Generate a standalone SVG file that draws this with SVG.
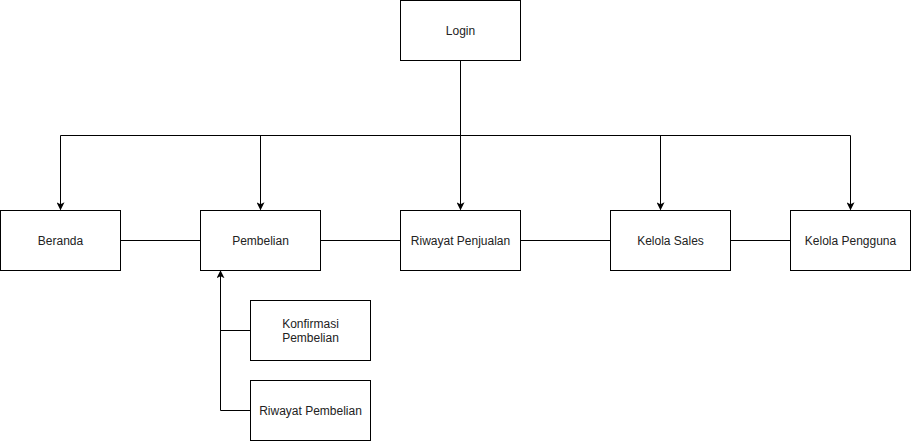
<svg xmlns="http://www.w3.org/2000/svg" width="911" height="441" viewBox="0 0 911 441">
  <style>
    .box { fill: #ffffff; stroke: #000000; stroke-width: 1; }
    .label { font-family: "Liberation Sans", Arial, sans-serif; font-size: 12px; fill: #222222; text-anchor: middle; dominant-baseline: central; }
    .edge { fill: none; stroke: #000000; stroke-width: 1; }
  </style>
  <defs>
    <marker id="arrow" viewBox="0 0 10 10" refX="9" refY="5" markerWidth="8" markerHeight="8" markerUnits="userSpaceOnUse" orient="auto">
      <path d="M0,0 L10,5 L0,10 L2.5,5 Z" fill="#000000"/>
    </marker>
  </defs>
  <rect width="911" height="441" fill="#ffffff"/>

  <g id="connectors">
    <!-- Login fan-out -->
    <path class="edge" d="M460.5,60.5 V135.5"/>
    <path class="edge" d="M60.5,135.5 H850.5"/>
    <path class="edge" d="M60.5,135.5 V209.5" marker-end="url(#arrow)"/>
    <path class="edge" d="M260.5,135.5 V209.5" marker-end="url(#arrow)"/>
    <path class="edge" d="M460.5,135.5 V209.5" marker-end="url(#arrow)"/>
    <path class="edge" d="M660.5,135.5 V209.5" marker-end="url(#arrow)"/>
    <path class="edge" d="M850.5,135.5 V209.5" marker-end="url(#arrow)"/>
    <!-- menu row links -->
    <path class="edge" d="M120.5,240.5 H200.5"/>
    <path class="edge" d="M320.5,240.5 H400.5"/>
    <path class="edge" d="M520.5,240.5 H610.5"/>
    <path class="edge" d="M730.5,240.5 H790.5"/>
    <!-- Pembelian sub-pages -->
    <path class="edge" d="M250.5,330.5 H220.5"/>
    <path class="edge" d="M250.5,410.5 H220.5 V271" marker-end="url(#arrow)"/>
  </g>

  <g id="login">
    <rect class="box" x="400.5" y="0.5" width="120" height="60"/>
    <text class="label" x="460.5" y="30.5">Login</text>
  </g>
  <g id="beranda">
    <rect class="box" x="0.5" y="210.5" width="120" height="60"/>
    <text class="label" x="60.5" y="240.5">Beranda</text>
  </g>
  <g id="pembelian">
    <rect class="box" x="200.5" y="210.5" width="120" height="60"/>
    <text class="label" x="260.5" y="240.5">Pembelian</text>
  </g>
  <g id="riwayat-penjualan">
    <rect class="box" x="400.5" y="210.5" width="120" height="60"/>
    <text class="label" x="460.5" y="240.5">Riwayat Penjualan</text>
  </g>
  <g id="kelola-sales">
    <rect class="box" x="610.5" y="210.5" width="120" height="60"/>
    <text class="label" x="670.5" y="240.5">Kelola Sales</text>
  </g>
  <g id="kelola-pengguna">
    <rect class="box" x="790.5" y="210.5" width="120" height="60"/>
    <text class="label" x="850.5" y="240.5">Kelola Pengguna</text>
  </g>
  <g id="konfirmasi-pembelian">
    <rect class="box" x="250.5" y="300.5" width="120" height="60"/>
    <text class="label" x="310.5" y="323.5">Konfirmasi</text>
    <text class="label" x="310.5" y="337.5">Pembelian</text>
  </g>
  <g id="riwayat-pembelian">
    <rect class="box" x="250.5" y="380.5" width="120" height="60"/>
    <text class="label" x="310.5" y="410.5">Riwayat Pembelian</text>
  </g>
</svg>
